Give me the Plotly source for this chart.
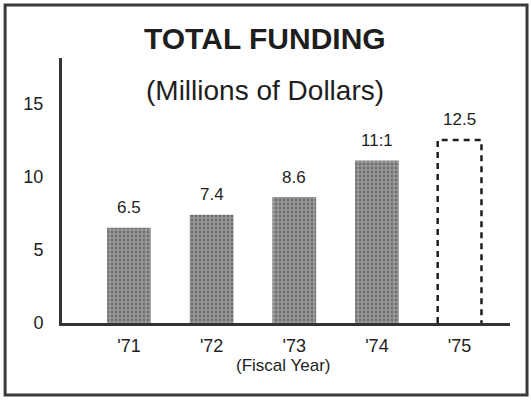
import plotly.graph_objects as go

years = ["'71", "'72", "'73", "'74", "'75"]
funding = [6.5, 7.4, 8.6, 11.1, 12.5]
value_labels = ["6.5", "7.4", "8.6", "11:1", "12.5"]
projected = [False, False, False, False, True]
y_ticks = [0, 5, 10, 15]

BAR_W = 0.53
INK = "#1e1e1e"
FONT = "Liberation Sans"

xs = list(range(len(years)))
fig = go.Figure()

fig.add_trace(go.Bar(
    x=xs, y=funding, width=BAR_W,
    marker=dict(
        color=["white" if p else "#9a9a9a" for p in projected],
        line=dict(width=0),
        pattern=dict(shape=["" if p else "." for p in projected],
                     fgcolor="#454545", bgcolor="#a8a8a8", size=4, solidity=0.4),
    ),
    hoverinfo="skip", showlegend=False,
))

# dashed outline for projected bars
for i, (v, p) in enumerate(zip(funding, projected)):
    if p:
        fig.add_trace(go.Scatter(
            x=[i - BAR_W / 2, i - BAR_W / 2, i + BAR_W / 2, i + BAR_W / 2],
            y=[0, v, v, 0], mode="lines",
            line=dict(color=INK, width=2.5, dash="6px,5px"),
            hoverinfo="skip", showlegend=False,
        ))

for i, (v, t) in enumerate(zip(funding, value_labels)):
    fig.add_annotation(x=i, y=v, text=t, showarrow=False, yshift=20,
                       font=dict(family=FONT, size=17, color=INK))

fig.add_annotation(x=0.453, y=1.072, xref="paper", yref="paper",
                   xanchor="center", yanchor="middle",
                   text="<b>TOTAL FUNDING</b>", showarrow=False,
                   font=dict(family=FONT, size=30, color=INK))
fig.add_annotation(x=0.453, y=0.879, xref="paper", yref="paper",
                   xanchor="center", yanchor="middle",
                   text="(Millions of Dollars)", showarrow=False,
                   font=dict(family=FONT, size=28, color=INK))
fig.add_annotation(x=0.493, y=-0.162, xref="paper", yref="paper",
                   xanchor="center", yanchor="middle",
                   text="(Fiscal Year)", showarrow=False,
                   font=dict(family=FONT, size=17, color=INK))

fig.add_shape(type="rect", xref="paper", yref="paper",
              x0=-0.127, x1=1.038, y0=-0.272, y1=1.2,
              line=dict(color="#3a3a3a", width=3))

fig.update_layout(
    width=531, height=403,
    margin=dict(l=62, r=21, t=58, b=80, autoexpand=False),
    paper_bgcolor="white", plot_bgcolor="white",
    font=dict(family=FONT, color=INK),
    xaxis=dict(range=[-0.81, 4.61], tickvals=xs, ticktext=years,
               showgrid=False, zeroline=False, showline=True, automargin=False,
               linecolor="#333", linewidth=3, ticks="",
               tickfont=dict(size=18), ticklabelstandoff=4),
    yaxis=dict(range=[0, 18.1], tickvals=y_ticks,
               showgrid=False, zeroline=False, showline=True, automargin=False,
               linecolor="#333", linewidth=3, ticks="",
               tickfont=dict(size=18), ticklabelstandoff=12),
)

fig.write_html("out.html", config={"displayModeBar": False},
               post_script="document.body.style.margin='0';document.body.style.overflow='hidden';")
